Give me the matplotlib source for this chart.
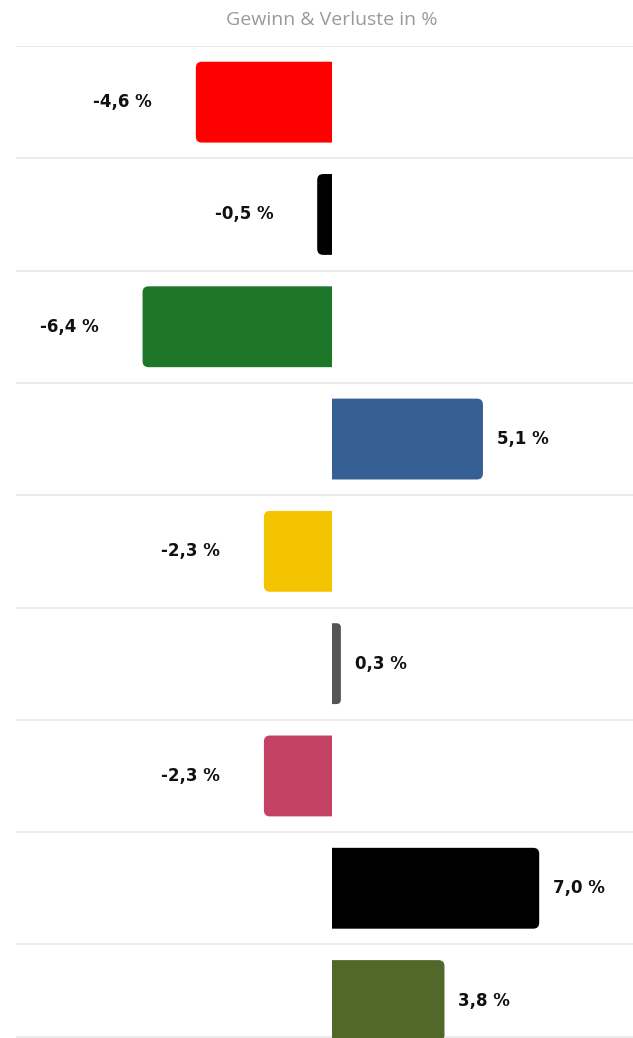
import matplotlib
matplotlib.use("Agg")
import matplotlib.pyplot as plt
from matplotlib.patches import FancyBboxPatch, Rectangle

title = "Gewinn & Verluste in %"
values = [-4.6, -0.5, -6.4, 5.1, -2.3, 0.3, -2.3, 7.0, 3.8]
labels = ["-4,6 %", "-0,5 %", "-6,4 %", "5,1 %", "-2,3 %", "0,3 %", "-2,3 %", "7,0 %", "3,8 %"]
colors = ["#ff0000", "#000000", "#1e7629", "#365f93", "#f4c400",
          "#555555", "#c34264", "#000000", "#50692b"]

W, H = 633, 1038
fig = plt.figure(figsize=(W / 100, H / 100), dpi=100)
fig.patch.set_facecolor("white")

px_per_x = 29.6
row_px = 112.3
ax_left_px, ax_top_px = 16, 46
ax = fig.add_axes([ax_left_px / W, 0, (W - ax_left_px) / W, (H - ax_top_px) / H])
zero_px = 332
ax.set_xlim((ax_left_px - zero_px) / px_per_x, (W - zero_px) / px_per_x)
ymax = (H - ax_top_px) / row_px
ax.set_ylim(ymax, 0)
ax.axis("off")

# separators
for i in range(len(values)):
    ax.axhline(i, color="#e8e8ec", lw=1.2, zorder=0)
ax.axhline((1036.5 - ax_top_px) / row_px, color="#e8e8ec", lw=1.2, zorder=0)

bar_h = 0.72
r_px = 6
aspect = (1 / row_px) / (1 / px_per_x)
for i, (v, lab, c) in enumerate(zip(values, labels, colors)):
    y0 = i + (1 - bar_h) / 2
    r = min(r_px / px_per_x, abs(v) / 2)
    if v < 0:
        x0, w = v, abs(v) + r
        clip = Rectangle((-50, -10), 50, 100, transform=ax.transData)
    else:
        x0, w = -r, v + r
        clip = Rectangle((0, -10), 50, 100, transform=ax.transData)
    patch = FancyBboxPatch((x0, y0), w, bar_h,
                           boxstyle=f"round,pad=0,rounding_size={r}",
                           mutation_aspect=aspect, facecolor=c, edgecolor="none",
                           zorder=2)
    ax.add_patch(patch)
    patch.set_clip_path(clip)
    if v < 0:
        ax.annotate(lab, (v, i + 0.5), xytext=(-44 * 0.72, 0), textcoords="offset points",
                    ha="right", va="center", fontsize=12, fontweight="bold",
                    fontfamily="DejaVu Sans", color="#111111")
    else:
        ax.annotate(lab, (v, i + 0.5), xytext=(14 * 0.72, 0), textcoords="offset points",
                    ha="left", va="center", fontsize=12, fontweight="bold",
                    fontfamily="DejaVu Sans", color="#111111")

fig.text(332 / W, 1 - 20 / H, title, ha="center", va="center", fontsize=14,
         color="#9a9a9a", fontfamily="Open Sans")

fig.savefig("out.png", dpi=100)
